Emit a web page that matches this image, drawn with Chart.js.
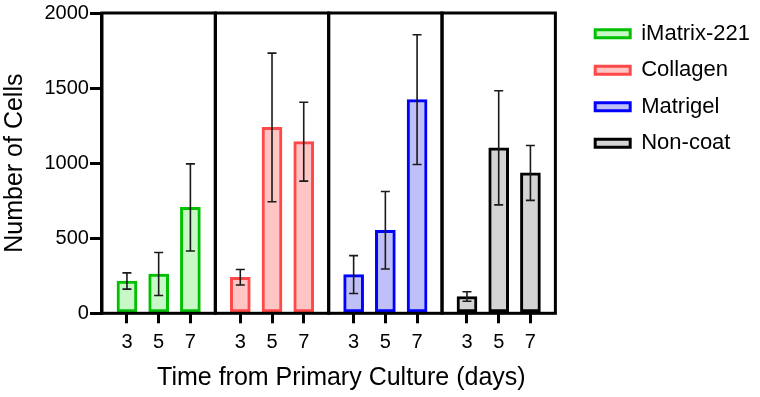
<!DOCTYPE html>
<html>
<head>
<meta charset="utf-8">
<script src="https://cdn.jsdelivr.net/npm/chart.js@4"></script>
<style>
html, body { margin: 0; padding: 0; background: #fff; }
</style>
</head>
<body>
<canvas id="cellChart" width="760" height="397"></canvas>
<script>
// days after primary culture, shown under every panel
var days = ["3", "5", "7"];
var coatings = ["iMatrix-221", "Collagen", "Matrigel", "Non-coat"];

// mean cell counts and SD, one pair per coating
var imatrixMean = [215, 262, 705];
var imatrixSd = [54, 143, 290];
var collagenMean = [240, 1238, 1143];
var collagenSd = [52, 495, 263];
var matrigelMean = [258, 553, 1423];
var matrigelSd = [126, 258, 432];
var noncoatMean = [112, 1102, 935];
var noncoatSd = [32, 380, 183];

var yTicks = [0, 500, 1000, 1500, 2000];

var means = [imatrixMean, collagenMean, matrigelMean, noncoatMean];
var sds = [imatrixSd, collagenSd, matrigelSd, noncoatSd];
var borderColors = ['#00c000', '#ff4848', '#0000ff', '#000000'];
var fillColors = ['#c8f7c8', '#ffc4c4', '#c0c0f8', '#d4d4d4'];

var panelWidth = 3.573;   // one panel, in units of bar spacing
var xMax = 15.09;

Chart.defaults.font.family = "'Liberation Sans', Arial, sans-serif";
Chart.defaults.color = '#000';

// x position of each bar: 3 bars centred in their panel
function barX(panel, i) {
  return panel * panelWidth + (panelWidth - 2) / 2 + i;
}

var tickPositions = [];
coatings.forEach(function(c, p) {
  days.forEach(function(d, i) { tickPositions.push(barX(p, i)); });
});

var datasets = coatings.map(function(name, p) {
  return {
    label: name,
    data: means[p].map(function(v, i) { return { x: barX(p, i), y: v }; }),
    sd: sds[p],
    backgroundColor: fillColors[p],
    borderColor: borderColors[p],
    borderWidth: 3,
    borderSkipped: false,
    barThickness: 20,
    grouped: false
  };
});

var errorBars = {
  id: 'errorBars',
  afterDatasetsDraw: function(chart) {
    var ctx = chart.ctx, xs = chart.scales.x, ys = chart.scales.y;
    ctx.save();
    ctx.strokeStyle = '#1a1a1a';
    ctx.lineWidth = 1.6;
    chart.data.datasets.forEach(function(ds) {
      ds.data.forEach(function(pt, i) {
        var x = xs.getPixelForValue(pt.x);
        var top = ys.getPixelForValue(pt.y + ds.sd[i]);
        var bot = ys.getPixelForValue(pt.y - ds.sd[i]);
        ctx.beginPath();
        ctx.moveTo(x, top); ctx.lineTo(x, bot);
        ctx.moveTo(x - 4.5, top); ctx.lineTo(x + 4.5, top);
        ctx.moveTo(x - 4.5, bot); ctx.lineTo(x + 4.5, bot);
        ctx.stroke();
      });
    });
    ctx.restore();
  }
};

// boxes round each coating's panel
var panelFrames = {
  id: 'panelFrames',
  afterDatasetsDraw: function(chart) {
    var ctx = chart.ctx, xs = chart.scales.x, ys = chart.scales.y;
    var yTop = ys.getPixelForValue(2000), yBot = ys.getPixelForValue(0);
    ctx.save();
    ctx.strokeStyle = '#000';
    ctx.lineWidth = 3;
    coatings.forEach(function(c, p) {
      var x0 = xs.getPixelForValue(p * panelWidth);
      var x1 = xs.getPixelForValue((p + 1) * panelWidth);
      ctx.strokeRect(x0, yTop, x1 - x0, yBot - yTop);
    });
    ctx.restore();
  }
};

new Chart(document.getElementById('cellChart'), {
  type: 'bar',
  data: { datasets: datasets },
  plugins: [errorBars, panelFrames],
  options: {
    responsive: false,
    animation: false,
    plugins: {
      tooltip: { enabled: false },
      legend: {
        position: 'right',
        align: 'start',
        title: { display: true, text: ' ', font: { size: 6 }, padding: 0.5 },
        labels: {
          boxWidth: 35,
          boxHeight: 8,
          padding: 14.5,
          color: '#000',
          font: { size: 22 }
        }
      }
    },
    scales: {
      x: {
        type: 'linear',
        min: 0,
        max: xMax,
        offset: false,
        afterBuildTicks: function(scale) {
          scale.ticks = tickPositions.map(function(v) { return { value: v }; });
        },
        ticks: {
          autoSkip: false,
          maxRotation: 0,
          padding: 7,
          font: { size: 20 },
          callback: function(value, index) { return days[index % days.length]; }
        },
        grid: {
          offset: false,
          drawOnChartArea: false,
          drawTicks: true,
          tickLength: 10,
          lineWidth: 3,
          color: '#000'
        },
        border: { display: false },
        title: {
          display: true,
          text: 'Time from Primary Culture (days)',
          font: { size: 25 },
          padding: { top: 1.7, bottom: 4 }
        }
      },
      y: {
        min: 0,
        max: 2000,
        afterBuildTicks: function(scale) {
          scale.ticks = yTicks.map(function(v) { return { value: v }; });
        },
        ticks: {
          padding: 1,
          font: { size: 20 },
          callback: function(value) { return String(value); }
        },
        grid: {
          drawOnChartArea: false,
          drawTicks: true,
          tickLength: 12,
          lineWidth: 3,
          color: '#000'
        },
        border: { display: true, width: 3, color: '#000' },
        title: {
          display: true,
          text: 'Number of Cells',
          font: { size: 25 },
          padding: { top: 0, bottom: 13.5 }
        }
      }
    }
  }
});
</script>
</body>
</html>
